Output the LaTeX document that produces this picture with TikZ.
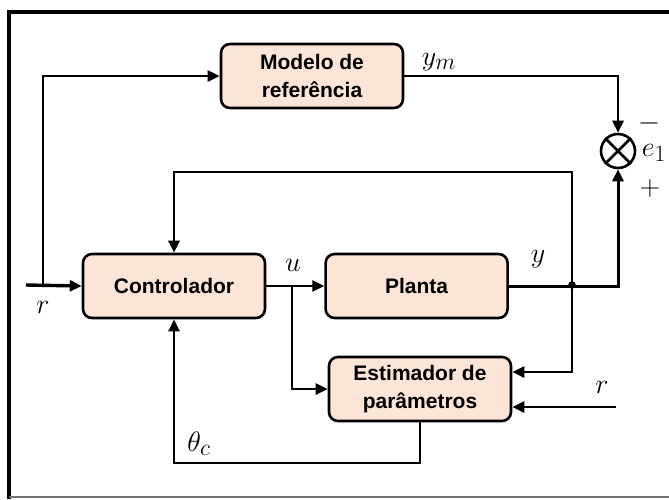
\documentclass[tikz,border=0pt]{standalone}
\usepackage{fontspec}
\usepackage{graphicx}
\usepackage{tikz}
\usetikzlibrary{arrows.meta,positioning,shapes.geometric}
\newfontfamily\blockfont{Liberation Sans}
\definecolor{blockfill}{HTML}{FCE4D6}
\newcommand{\siglabel}[1]{\scalebox{1.13}{$#1$}}

\begin{document}
\begin{tikzpicture}[
  x=1pt,y=-1pt,
  block/.style={rectangle,rounded corners=9pt,draw=black,line width=2.6pt,fill=blockfill,align=center,
              font=\blockfont\bfseries\fontsize{21}{28}\selectfont,minimum width=182pt,minimum height=64pt,inner sep=2pt},
  sig/.style={font=\fontsize{24.88}{30}\selectfont,inner sep=1pt},
  arr/.style={-{Triangle[length=12pt,width=11pt]},line width=2.6pt},
  wire/.style={line width=2.6pt}
]
\useasboundingbox (0,0) rectangle (669,499);
\draw[line width=3.8pt] (669,12) -- (9,12) -- (9,499);
\draw[black!55,line width=1.2pt] (9,497) -- (669,497);

\node[block] (modelo) at (312,76) {Modelo de\\referência};
\node[block] (ctrl) at (174,286) {Controlador};
\node[block,right=58pt of ctrl] (planta) {Planta};
\node[block] (est) at (420,389) {Estimador de\\parâmetros};
\node[circle,draw,line width=2.6pt,minimum size=34pt,inner sep=0pt] (sum) at (618,151) {};
\draw[wire] (sum.north west) -- (sum.south east) (sum.north east) -- (sum.south west);

\coordinate (rin) at (26,285);
\coordinate (rsplit) at (43,285);
\coordinate (ubr) at (292,285);
\coordinate (junc) at (572,285);
\coordinate (fbtop) at (572,172);
\coordinate (rin2) at (616,407);
\coordinate (thc) at (174,463);

\draw[arr,line width=3.4pt] (rin) -- (ctrl.west);
\draw[arr] (rsplit) |- (modelo.west);
\draw[arr] (modelo.east) -| (sum.north);
\draw[arr] (ctrl.east) -- (planta.west);
\draw[arr] (ubr) |- (est.west);
\draw[arr,line width=3pt] (planta.east) -| (sum.south);
\draw[arr] (junc) -- (fbtop) -| (ctrl.north);
\draw[arr] (junc) |- ([yshift=17pt]est.east);
\draw[arr] (rin2) -- (rin2 -| est.east);
\draw[arr] (est.south) |- (thc) -- (ctrl.south);
\fill (junc) circle (3.8pt);

\node[sig] (lr) at (43,307) {\siglabel{r}};
\node[sig] (lym) at (439,62) {\siglabel{y_m}};
\node[sig] (lminus) at (649,123) {\siglabel{-}};
\node[sig] (le) at (654,153) {\siglabel{e_1}};
\node[sig] (lplus) at (650,188) {\siglabel{+}};
\node[sig] (lu) at (293,265) {\siglabel{u}};
\node[sig] (ly) at (538,259) {\siglabel{y}};
\node[sig] (lr2) at (602,387) {\siglabel{r}};
\node[sig] (lth) at (199,444) {\siglabel{\theta_c}};
\end{tikzpicture}
\end{document}
